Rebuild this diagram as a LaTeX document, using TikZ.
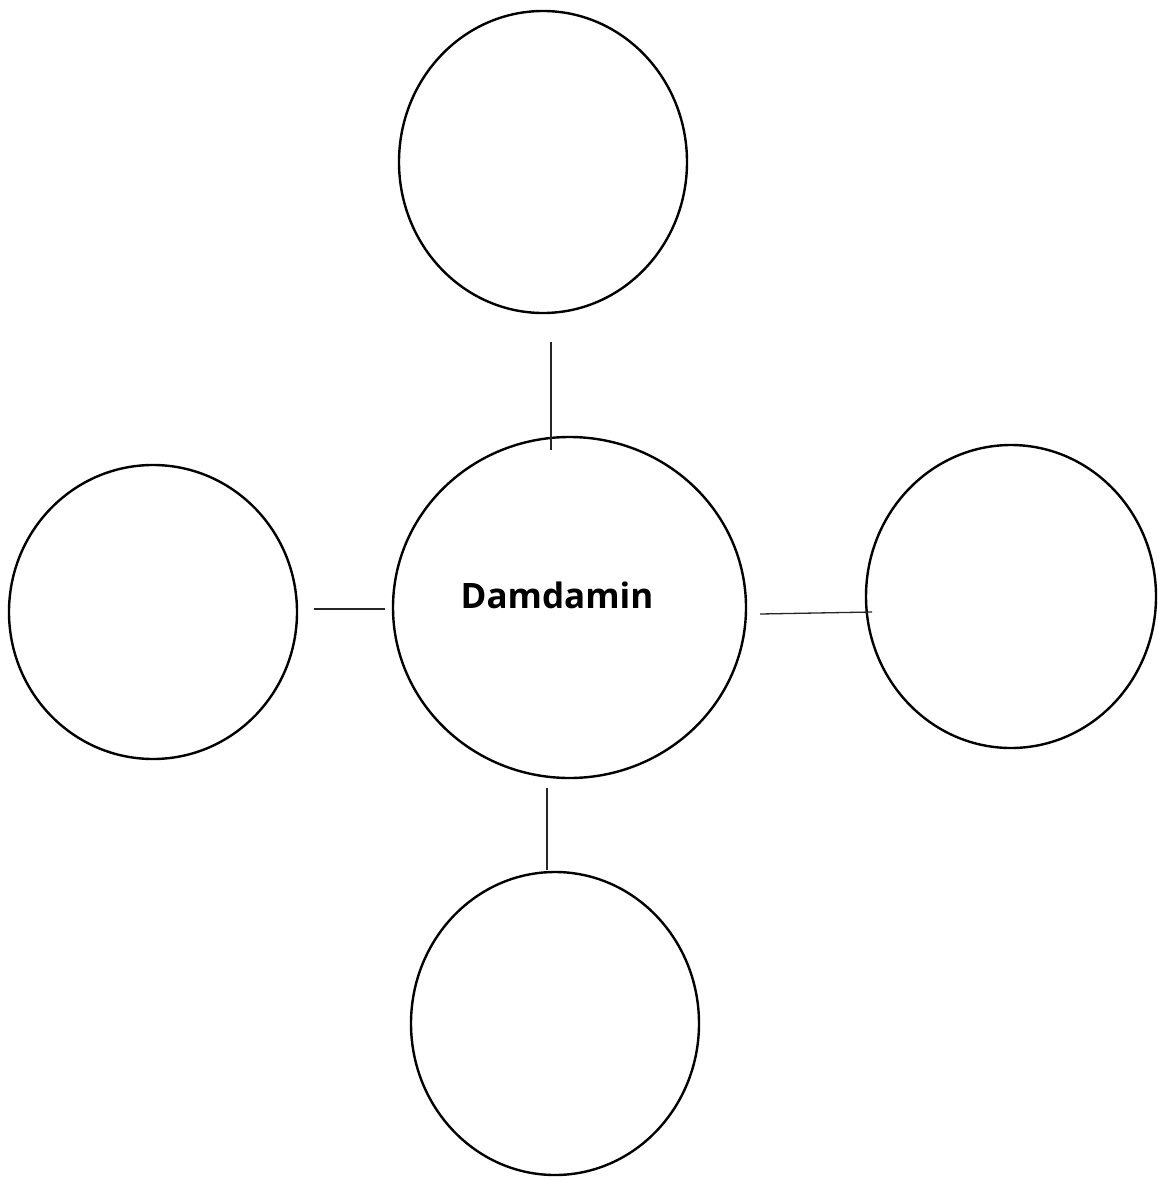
\documentclass[tikz,border=0pt]{standalone}
\usepackage{fontspec}
\setmainfont{Open Sans}
\begin{document}
\begin{tikzpicture}[x=1pt,y=-1pt,
  bubble/.style={draw=black,line width=2.4pt},
  link/.style={draw=black!85,line width=1.3pt}]
\useasboundingbox (0,0) rectangle (1158,1180);
\draw[bubble] (543,162) ellipse [x radius=144,y radius=151];
\draw[bubble] (569.5,607.5) ellipse [x radius=176.5,y radius=170.5];
\draw[bubble] (153,612) ellipse [x radius=144,y radius=147];
\draw[bubble] (1011,596.5) ellipse [x radius=145,y radius=151.5];
\draw[bubble] (555,1023.5) ellipse [x radius=144,y radius=151.5];
\node[font=\bfseries\fontsize{35}{40}\selectfont, anchor=base] (center) at (557,608) {Damdamin};
\coordinate (t1) at (551,342); \coordinate (t2) at (551,450);
\coordinate (l1) at (314,609); \coordinate (l2) at (385,609);
\coordinate (r1) at (760,614); \coordinate (r2) at (872,612);
\coordinate (b1) at (547,788); \coordinate (b2) at (547,870);
\draw[link] (t1) -- (t2);
\draw[link] (l1) -- (l2);
\draw[link] (r1) -- (r2);
\draw[link] (b1) -- (b2);
\end{tikzpicture}
\end{document}
